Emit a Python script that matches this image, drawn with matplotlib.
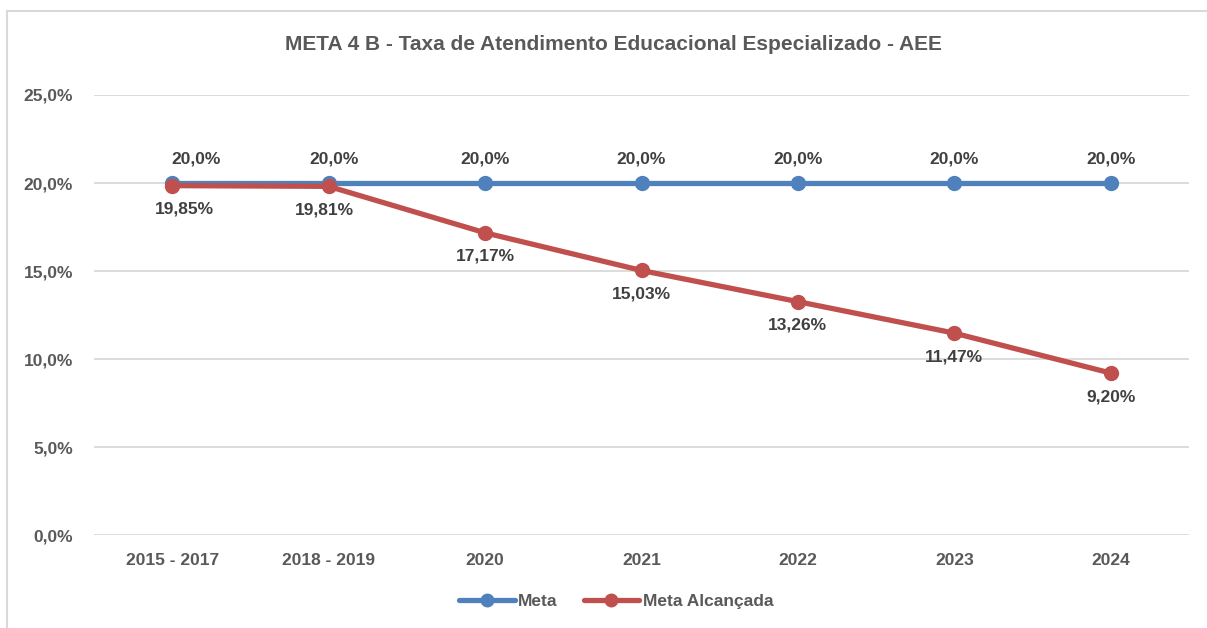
import matplotlib.pyplot as plt
from matplotlib import font_manager
from matplotlib.lines import Line2D

categorias = ['2015 - 2017', '2018 - 2019', '2020', '2021', '2022', '2023', '2024']
meta = [20.0, 20.0, 20.0, 20.0, 20.0, 20.0, 20.0]
meta_alcancada = [19.85, 19.81, 17.17, 15.03, 13.26, 11.47, 9.20]
y_ticks = [0, 5, 10, 15, 20, 25]

# deslocamento horizontal dos rótulos (pontos), como no original
desl_meta = [17, 4, 0, 0, 0, 0, 0]
desl_alc = [9, -3, 0, 0, 0, 0, 0]

names = {f.name for f in font_manager.fontManager.ttflist}
fonte = 'Liberation Sans Narrow' if 'Liberation Sans Narrow' in names else 'Liberation Sans'
plt.rcParams['font.family'] = [fonte, 'DejaVu Sans']
plt.rcParams['font.weight'] = 'bold'

azul = '#4F81BD'
vermelho = '#C0504D'
cinza_txt = '#595959'
cinza_dado = '#404040'

fig = plt.figure(figsize=(12.07, 6.28), dpi=100)
ax = fig.add_axes([94/1207, 1-535/628, (1189-94)/1207, (535-95)/628])

# moldura do gráfico (só topo e esquerda aparecem)
fig.add_artist(Line2D([7/1207, 1.0], [1-11/628, 1-11/628], transform=fig.transFigure,
                      color='#D9D9D9', lw=1.5))
fig.add_artist(Line2D([7/1207, 7/1207], [0, 1-11/628], transform=fig.transFigure,
                      color='#D9D9D9', lw=1.5))

x = list(range(len(categorias)))
ax.plot(x, meta, color=azul, lw=3.8, marker='o', ms=10, solid_capstyle='round', zorder=3)
ax.plot(x, meta_alcancada, color=vermelho, lw=3.8, marker='o', ms=10, solid_capstyle='round', zorder=4)

for i, v in enumerate(meta):
    ax.annotate(f'{v:.1f}%'.replace('.', ','), (i, v), xytext=(desl_meta[i], 17), textcoords='offset points',
                ha='center', va='center', fontsize=12.5, color=cinza_dado, fontweight='bold')
for i, v in enumerate(meta_alcancada):
    ax.annotate(f'{v:.2f}%'.replace('.', ','), (i, v), xytext=(desl_alc[i], -17), textcoords='offset points',
                ha='center', va='center', fontsize=12.5, color=cinza_dado, fontweight='bold')

ax.set_xlim(-0.5, len(categorias) - 0.5)
ax.set_ylim(0, 25)
ax.set_yticks(y_ticks)
ax.set_yticklabels([f'{t:.1f}%'.replace('.', ',') for t in y_ticks])
ax.set_xticks(x)
ax.set_xticklabels(categorias)
ax.tick_params(axis='both', length=0, labelsize=12.5, labelcolor=cinza_txt)
ax.tick_params(axis='y', pad=15)
ax.tick_params(axis='x', pad=13)
ax.grid(axis='y', color='#D9D9D9', lw=1.3)
ax.set_axisbelow(True)
for s in ax.spines.values():
    s.set_visible(False)

fig.text(613/1207, 1-45/628, 'META 4 B - Taxa de Atendimento Educacional Especializado - AEE',
         ha='center', va='center', fontsize=15, color=cinza_txt, fontweight='bold')

handles = [Line2D([], [], color=azul, lw=3.8, marker='o', ms=9, solid_capstyle='round'),
           Line2D([], [], color=vermelho, lw=3.8, marker='o', ms=9, solid_capstyle='round')]
fig.legend(handles, ['Meta', 'Meta Alcançada'], loc='center', bbox_to_anchor=(616/1207, 1-601/628),
           ncol=2, frameon=False, fontsize=12.5, labelcolor=cinza_txt, handlelength=3.2,
           handletextpad=0.2, columnspacing=1.5)

fig.savefig('out.png', dpi=100)
